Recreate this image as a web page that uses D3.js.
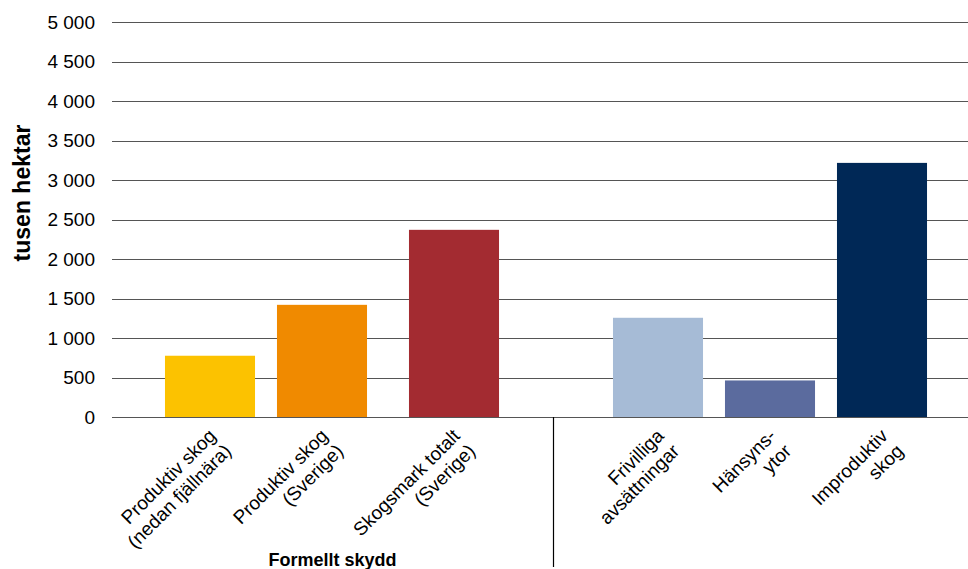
<!DOCTYPE html>
<html>
<head>
<meta charset="utf-8">
<script src="https://cdn.jsdelivr.net/npm/d3@7"></script>
<style>
  html, body { margin: 0; padding: 0; background: #fff; }
  svg { display: block; font-family: "Liberation Sans", Arial, sans-serif; }
</style>
</head>
<body>
<svg id="chart" width="968" height="569"></svg>
<script>
// Skyddad skog, tusen hektar
const categories = [
  "Produktiv skog\n(nedan fjällnära)",
  "Produktiv skog\n(Sverige)",
  "Skogsmark totalt\n(Sverige)",
  "Frivilliga\navsättningar",
  "Hänsyns-\nytor",
  "Improduktiv\nskog"
];
const values = [776, 1421, 2371, 1257, 463, 3219];
const colors = ["#FCC200", "#F08A00", "#A32B31", "#A6BBD6", "#5B6B9E", "#002856"];
const groups = ["formal", "formal", "formal", "other", "other", "other"];
const yTicks = [0, 500, 1000, 1500, 2000, 2500, 3000, 3500, 4000, 4500, 5000];
const yTitle = "tusen hektar";
const groupTitle = "Formellt skydd";

const svg = d3.select("#chart");
const W = 968, H = 569;
const FONT = "'Liberation Sans', Arial, sans-serif";

// Slots: three formal categories, one spacer, then three others
const slots = [categories[0], categories[1], categories[2], "__gap", categories[3], categories[4], categories[5]];
const x = d3.scaleBand().domain(slots).range([154, 938]).paddingInner(0.196).paddingOuter(0.098);
const y = d3.scaleLinear().domain([0, 5000]).range([417, 22.3]);

// The total bar sits a little further right within its slot
const nudge = (d) => d === categories[2] ? 20 : 0;
const cx = (d) => x(d) + x.bandwidth() / 2 + nudge(d);

const fmt = (v) => d3.format(",")(v).replace(/,/g, " ");

// Tick labels
const yAxis = d3.axisLeft(y).tickValues(yTicks).tickFormat(fmt).tickSize(0).tickPadding(0);
const gy = svg.append("g").attr("transform", "translate(95,0)").call(yAxis);
gy.select(".domain").remove();
gy.attr("font-size", null).attr("font-family", null);
gy.selectAll("text").attr("font-size", 19).attr("fill", "#000").attr("font-family", FONT);

// Gridlines
svg.append("g").selectAll("line").data(yTicks).join("line")
  .attr("x1", 112).attr("x2", W)
  .attr("y1", d => Math.round(y(d)) + 0.5).attr("y2", d => Math.round(y(d)) + 0.5)
  .attr("stroke", "#555").attr("stroke-width", 1.2);

// Bars
svg.append("g").selectAll("rect").data(categories).join("rect")
  .attr("x", d => x(d) + nudge(d))
  .attr("width", x.bandwidth())
  .attr("y", (d, i) => y(values[i]))
  .attr("height", (d, i) => y(0) - y(values[i]))
  .attr("fill", (d, i) => colors[i]);

// Category labels, rotated, right-aligned lines
const lab = svg.append("g").selectAll("text").data(categories).join("text")
  .attr("transform", d => `translate(${cx(d) - 3},${427}) rotate(-45)`)
  .attr("text-anchor", "end")
  .attr("font-size", 19)
  .attr("fill", "#000");
lab.each(function (d) {
  const t = d3.select(this);
  d.split("\n").forEach((line, i) => {
    t.append("tspan").attr("x", 0).attr("dy", i === 0 ? "0.75em" : "1.14em").text(line);
  });
});

// Y title
svg.append("text")
  .attr("transform", `translate(30,193) rotate(-90)`)
  .attr("text-anchor", "middle")
  .attr("font-size", 23).attr("font-weight", "bold")
  .text(yTitle);

// Group divider and title
const formal = categories.filter((d, i) => groups[i] === "formal");
const divX = Math.round((cx(categories[2]) + cx(categories[3])) / 2) - 2.5;
svg.append("line")
  .attr("x1", divX).attr("x2", divX).attr("y1", y(0)).attr("y2", 567)
  .attr("stroke", "#000").attr("stroke-width", 1.2);

svg.append("text")
  .attr("x", 332.5)
  .attr("y", 566)
  .attr("text-anchor", "middle")
  .attr("font-size", 18).attr("font-weight", "bold")
  .text(groupTitle);
</script>
</body>
</html>
